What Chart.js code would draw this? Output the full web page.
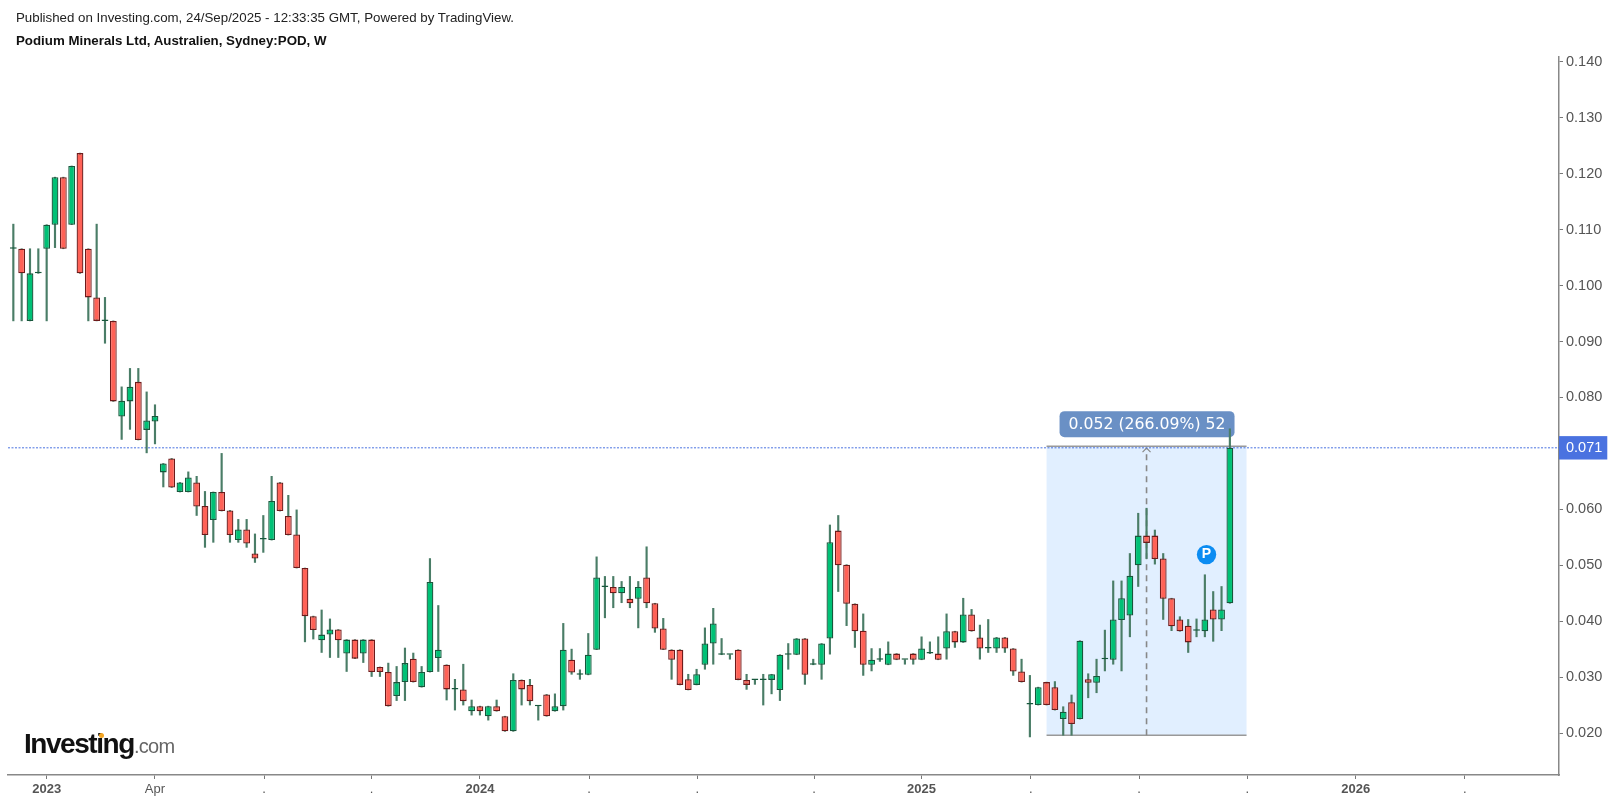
<!DOCTYPE html>
<html lang="en">

<head>
    <meta charset="UTF-8" />
    <title>Podium Minerals Ltd</title>
    <script src="https://cdn.jsdelivr.net/npm/chart.js"></script>
    <style>
        body { margin: 0; background: #fff; font-family: "Liberation Sans", Arial, sans-serif; }
        #wrap { position: relative; width: 1614px; height: 803px; overflow: hidden; }
        canvas { display: block; }
        .head { position: absolute; left: 16px; font-size: 13.3px; color: #222; white-space: nowrap; }
        #line1 { top: 10px; }
        #line2 { top: 33px; font-weight: bold; color: #111; }
        #logo { position: absolute; left: 24px; top: 728px; white-space: nowrap; color: #111; font-weight: bold; font-size: 28px; letter-spacing: -1.45px; }
        #logo span { color: #666; font-weight: normal; font-size: 20px; letter-spacing: -0.7px; }
        #dot { position: absolute; left: 99px; top: 733px; width: 5px; height: 5px; border-radius: 50%; background: #f5a623; }
    </style>
</head>

<body>
    <div id="wrap">
        <canvas id="myChart" width="1614" height="803"></canvas>
        <div class="head" id="line1">Published on Investing.com, 24/Sep/2025 - 12:33:35 GMT, Powered by TradingView.</div>
        <div class="head" id="line2">Podium Minerals Ltd, Australien, Sydney:POD, W</div>
        <div id="logo">Investing<span>.com</span></div>
        <div id="dot"></div>
    </div>
</body>

<script>
    // weekly candles
    const opens = [
        .1066, .1066, .0937, .1022, .1066, .1109, .1194, .1109, .1237, .1066,
        .0979, .0937, .0937, .0766, .0793, .0828, .0742, .0757, .0666, .0691,
        .0631, .0631, .0648, .0606, .0581, .0631, .0598, .0545, .0564, .0521,
        .0546, .0545, .0648, .0588, .0555, .0495, .0409, .0366, .0376, .0385,
        .0342, .0367, .0342, .0367, .0318, .0309, .0266, .0291, .0333, .0282,
        .0309, .0334, .0322, .0278, .0278, .0239, .0248, .0230, .0248, .0230,
        .0203, .0295, .0286, .0248, .0269, .0239, .0248, .0331, .0304, .0304,
        .0349, .0461, .0461, .0450, .0440, .0440, .0478, .0432, .0387, .0349,
        .0349, .0296, .0286, .0322, .0360, .0340, .0340, .0349, .0295, .0295,
        .0295, .0295, .0277, .0340, .0340, .0369, .0322, .0322, .0369, .0562,
        .0501, .0431, .0383, .0322, .0331, .0322, .0342, .0331, .0342, .0331,
        .0342, .0342, .0351, .0382, .0362, .0412, .0371, .0351, .0351, .0371,
        .0351, .0310, .0251, .0250, .0291, .0282, .0225, .0255, .0225, .0296,
        .0290, .0332, .0331, .0402, .0410, .0500, .0553, .0553, .0512, .0441,
        .0403, .0392, .0383, .0382, .0421, .0403, .0432
    ];
    const highs = [
        .1110, .1066, .1066, .1066, .1109, .1194, .1194, .1214, .1237, .1066,
        .1110, .0979, .0937, .0819, .0852, .0852, .0810, .0787, .0682, .0691,
        .0648, .0667, .0659, .0632, .0631, .0700, .0598, .0582, .0582, .0556,
        .0589, .0659, .0648, .0625, .0599, .0495, .0409, .0420, .0404, .0385,
        .0367, .0367, .0367, .0367, .0318, .0325, .0319, .0352, .0343, .0319,
        .0512, .0428, .0322, .0296, .0323, .0259, .0248, .0248, .0259, .0230,
        .0306, .0295, .0296, .0248, .0269, .0270, .0396, .0350, .0313, .0378,
        .0515, .0480, .0480, .0471, .0480, .0471, .0533, .0432, .0405, .0349,
        .0349, .0305, .0314, .0388, .0423, .0369, .0340, .0349, .0305, .0295,
        .0305, .0305, .0340, .0360, .0369, .0369, .0332, .0360, .0572, .0589,
        .0501, .0431, .0413, .0351, .0351, .0363, .0342, .0331, .0342, .0372,
        .0363, .0372, .0413, .0382, .0441, .0421, .0393, .0403, .0371, .0371,
        .0351, .0332, .0303, .0282, .0291, .0292, .0247, .0268, .0365, .0306,
        .0332, .0384, .0472, .0472, .0521, .0593, .0602, .0563, .0521, .0441,
        .0408, .0403, .0404, .0483, .0453, .0462, .0744
    ];
    const lows = [
        .0937, .0937, .0937, .1022, .0937, .1068, .1066, .1109, .1022, .0937,
        .0937, .0897, .0793, .0725, .0743, .0724, .0701, .0717, .0640, .0639,
        .0631, .0631, .0589, .0532, .0541, .0597, .0541, .0541, .0532, .0505,
        .0523, .0545, .0597, .0554, .0495, .0363, .0368, .0344, .0335, .0335,
        .0310, .0333, .0326, .0301, .0301, .0248, .0258, .0258, .0291, .0282,
        .0309, .0310, .0259, .0241, .0250, .0232, .0232, .0223, .0239, .0203,
        .0203, .0250, .0250, .0223, .0230, .0239, .0241, .0305, .0296, .0304,
        .0349, .0406, .0424, .0433, .0424, .0388, .0424, .0380, .0349, .0296,
        .0286, .0277, .0286, .0314, .0323, .0340, .0332, .0295, .0278, .0287,
        .0250, .0270, .0258, .0314, .0340, .0287, .0322, .0296, .0341, .0453,
        .0392, .0353, .0303, .0311, .0328, .0322, .0331, .0323, .0323, .0331,
        .0342, .0331, .0332, .0353, .0362, .0382, .0332, .0344, .0344, .0344,
        .0303, .0291, .0193, .0250, .0250, .0241, .0196, .0196, .0225, .0263,
        .0272, .0311, .0323, .0311, .0372, .0462, .0512, .0502, .0403, .0383,
        .0382, .0344, .0372, .0372, .0364, .0383, .0432
    ];
    const closes = [
        .1066, .1022, .1022, .1022, .1109, .1194, .1066, .1214, .1022, .0979,
        .0937, .0937, .0793, .0794, .0819, .0724, .0759, .0767, .0682, .0639,
        .0648, .0657, .0605, .0554, .0631, .0597, .0554, .0564, .0539, .0512,
        .0546, .0615, .0597, .0554, .0495, .0409, .0384, .0376, .0385, .0366,
        .0367, .0333, .0367, .0309, .0309, .0248, .0291, .0325, .0291, .0309,
        .0470, .0349, .0278, .0278, .0257, .0248, .0239, .0248, .0239, .0203,
        .0295, .0278, .0257, .0248, .0230, .0248, .0349, .0308, .0304, .0340,
        .0478, .0461, .0450, .0461, .0432, .0461, .0432, .0387, .0349, .0331,
        .0286, .0277, .0305, .0360, .0396, .0340, .0340, .0295, .0286, .0295,
        .0295, .0305, .0340, .0340, .0369, .0304, .0322, .0360, .0541, .0500,
        .0431, .0382, .0322, .0331, .0331, .0342, .0331, .0331, .0331, .0351,
        .0342, .0331, .0382, .0362, .0412, .0382, .0351, .0351, .0371, .0351,
        .0310, .0291, .0251, .0282, .0250, .0241, .0238, .0216, .0365, .0290,
        .0302, .0332, .0403, .0441, .0481, .0553, .0540, .0511, .0440, .0391,
        .0382, .0362, .0383, .0403, .0403, .0421, .0710
    ];

    // axis ticks
    const yTickValues = [.02, .03, .04, .05, .06, .071, .08, .09, .10, .11, .12, .13, .14];
    const xTickBars = [4.0, 17.0, 30.1, 43.0, 56.0, 69.1, 82.1, 96.1, 109.0, 122.1, 135.1, 148.1, 161.1, 174.2];
    const xTickLabels = ['2023', 'Apr', '.', '.', '2024', '.', '.', '.', '2025', '.', '.', '.', '2026', '.'];

    // last price and the measure tool
    const lastPrice = 0.071;
    const measureFromBar = 124;
    const measureToBar = 148;
    const measureLow = 0.0196;
    const measureHigh = 0.0713;
    const measureArrowBar = 136;
    const measureLabel = '0.052 (266.09%) 52';
    const eventBar = 143.2;
    const eventPrice = 0.0519;

    const GREEN = '#00c176';
    const RED = '#ff6257';
    const GREEN_EDGE = '#17573c';
    const RED_EDGE = '#6e1a1a';
    const WICK = '#4a7d67';

    const xMin = -0.64;
    const xMax = 185.5;

    const measurePlugin = {
        id: 'measure',
        beforeDatasetsDraw(chart) {
            const ctx = chart.ctx;
            const x = chart.scales.x;
            const y = chart.scales.y;
            const left = x.getPixelForValue(measureFromBar);
            const right = x.getPixelForValue(measureToBar);
            const top = y.getPixelForValue(measureHigh);
            const bottom = y.getPixelForValue(measureLow);

            ctx.save();
            ctx.fillStyle = '#e1efff';
            ctx.fillRect(left, top, right - left, bottom - top);

            ctx.strokeStyle = '#999';
            ctx.lineWidth = 1.5;
            ctx.beginPath();
            ctx.moveTo(left, top);
            ctx.lineTo(right, top);
            ctx.moveTo(left, bottom);
            ctx.lineTo(right, bottom);
            ctx.stroke();

            // dashed arrow
            const ax = x.getPixelForValue(measureArrowBar);
            ctx.strokeStyle = '#888';
            ctx.lineWidth = 1.6;
            ctx.setLineDash([6, 5]);
            ctx.beginPath();
            ctx.moveTo(ax, bottom);
            ctx.lineTo(ax, top + 2);
            ctx.stroke();
            ctx.setLineDash([]);
            ctx.lineWidth = 1.2;
            ctx.beginPath();
            ctx.moveTo(ax - 4, top + 6);
            ctx.lineTo(ax, top + 2);
            ctx.lineTo(ax + 4, top + 6);
            ctx.stroke();

            // label
            const pillLeft = left + 13;
            const pillRight = right - 12;
            ctx.fillStyle = '#6a90c5';
            ctx.beginPath();
            ctx.roundRect(pillLeft, top - 35, pillRight - pillLeft, 26, 5);
            ctx.fill();
            ctx.fillStyle = '#fff';
            ctx.font = '15.7px "DejaVu Sans"';
            ctx.textAlign = 'center';
            ctx.textBaseline = 'middle';
            ctx.fillText(measureLabel, (pillLeft + pillRight) / 2, top - 21.5);
            ctx.restore();
        },
        afterDatasetsDraw(chart) {
            const ctx = chart.ctx;
            const px = chart.scales.x.getPixelForValue(eventBar);
            const py = chart.scales.y.getPixelForValue(eventPrice);
            ctx.save();
            ctx.fillStyle = '#0b8cf2';
            ctx.beginPath();
            ctx.arc(px, py, 9.7, 0, Math.PI * 2);
            ctx.fill();
            ctx.fillStyle = '#fff';
            ctx.font = 'bold 14px "Liberation Sans"';
            ctx.textAlign = 'center';
            ctx.textBaseline = 'middle';
            ctx.fillText('P', px, py);
            ctx.restore();
        }
    };

    const isCurrent = (c) => c.tick && c.tick.value === lastPrice;

    const myChart = new Chart(document.getElementById('myChart'), {
        type: 'bar',
        data: {
            datasets: [{
                type: 'line',
                order: 3,
                data: [{ x: xMin, y: lastPrice }, { x: xMax, y: lastPrice }],
                borderColor: '#4a72e0',
                borderWidth: 1,
                borderDash: [2, 1.5],
                pointRadius: 0
            }, {
                order: 2,
                grouped: false,
                barThickness: 1.5,
                backgroundColor: WICK,
                borderWidth: 0,
                data: opens.map((o, i) => ({ x: i, y: [lows[i], highs[i]] }))
            }, {
                order: 1,
                grouped: false,
                barThickness: 6.8,
                minBarLength: 1.5,
                borderWidth: 1.3,
                borderSkipped: false,
                inflateAmount: 0,
                backgroundColor: (c) => closes[c.dataIndex] > opens[c.dataIndex] ? GREEN
                    : closes[c.dataIndex] < opens[c.dataIndex] ? RED : GREEN_EDGE,
                borderColor: (c) => closes[c.dataIndex] < opens[c.dataIndex] ? RED_EDGE : GREEN_EDGE,
                data: opens.map((o, i) => ({ x: i, y: [o, closes[i]] }))
            }]
        },
        options: {
            responsive: false,
            animation: false,
            devicePixelRatio: 1,
            layout: { padding: { left: 8, top: 57, right: 0, bottom: 0 } },
            plugins: { legend: { display: false }, tooltip: { enabled: false } },
            scales: {
                x: {
                    type: 'linear',
                    offset: false,
                    min: xMin,
                    max: xMax,
                    afterBuildTicks: (s) => { s.ticks = xTickBars.map((v) => ({ value: v })); },
                    afterFit: (s) => { s.height = 28; },
                    grid: { offset: false, drawOnChartArea: false, tickLength: 4, tickColor: '#777', tickWidth: 1 },
                    border: { color: '#888', width: 1.5 },
                    ticks: {
                        autoSkip: false,
                        maxRotation: 0,
                        padding: 3,
                        color: '#555',
                        font: (c) => ({
                            family: '"Liberation Sans"',
                            size: 13,
                            weight: /^\d/.test(xTickLabels[c.index] || '') ? 'bold' : 'normal'
                        }),
                        callback: (v, i) => xTickLabels[i]
                    }
                },
                y: {
                    position: 'right',
                    min: 0.01249,
                    max: 0.14089,
                    afterBuildTicks: (s) => { s.ticks = yTickValues.map((v) => ({ value: v })); },
                    afterFit: (s) => { s.width = 55; },
                    grid: { drawOnChartArea: false, tickLength: 4, tickColor: '#777', tickWidth: 1 },
                    border: { color: '#888', width: 1.5 },
                    ticks: {
                        padding: 3,
                        color: (c) => isCurrent(c) ? '#fff' : '#555',
                        font: { family: '"Liberation Sans"', size: 14.5 },
                        showLabelBackdrop: isCurrent,
                        backdropColor: '#4a72e0',
                        backdropPadding: { left: 8, right: 5, top: 3, bottom: 3 },
                        callback: (v) => v.toFixed(3)
                    }
                }
            }
        },
        plugins: [measurePlugin]
    });
</script>

</html>
